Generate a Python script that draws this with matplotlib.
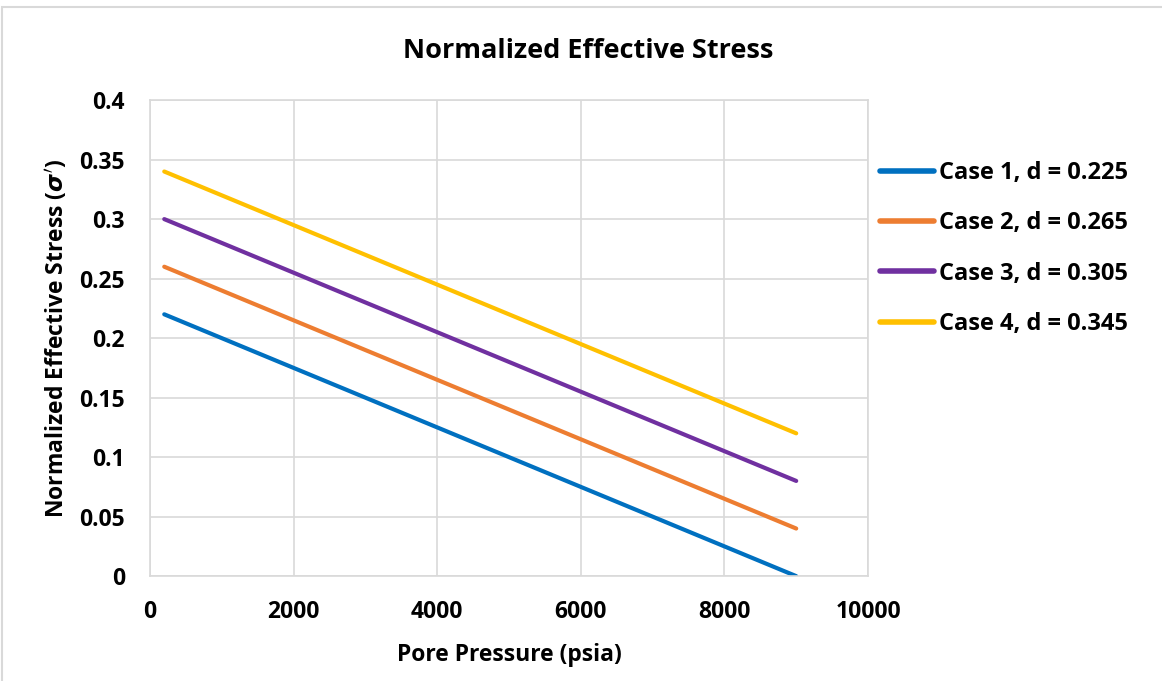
import matplotlib.pyplot as plt
from matplotlib.patches import Rectangle

plt.rcParams['font.family'] = ['Open Sans', 'DejaVu Sans']
plt.rcParams['font.weight'] = 'bold'

pore_pressure = [200, 9000]
case1 = [0.22, 0.0]
case2 = [0.26, 0.04]
case3 = [0.30, 0.08]
case4 = [0.34, 0.12]
labels = ['Case 1, d = 0.225', 'Case 2, d = 0.265',
          'Case 3, d = 0.305', 'Case 4, d = 0.345']
colors = ['#0070C0', '#ED7D31', '#7030A0', '#FFC000']
x_ticks = [0, 2000, 4000, 6000, 8000, 10000]
y_ticks = [0, 0.05, 0.1, 0.15, 0.2, 0.25, 0.3, 0.35, 0.4]
y_tick_labels = ['0', '0.05', '0.1', '0.15', '0.2', '0.25', '0.3', '0.35', '0.4']

fig = plt.figure(figsize=(11.62, 6.81), dpi=100)
ax = fig.add_axes([0.129, 0.154, 0.618, 0.699])

for y, lab, c in zip([case1, case2, case3, case4], labels, colors):
    ax.plot(pore_pressure, y, color=c, lw=3, label=lab, solid_capstyle='round')

ax.set_xlim(0, 10000)
ax.set_ylim(0, 0.4)
ax.set_xticks(x_ticks)
ax.set_xticklabels([str(t) for t in x_ticks])
ax.set_yticks(y_ticks)
ax.set_yticklabels(y_tick_labels)
ax.tick_params(labelsize=16.5)
ax.tick_params(axis='x', length=0, pad=17)
ax.tick_params(axis='y', length=0, pad=18)
ax.grid(True, color='#D9D9D9', lw=1.2)
ax.set_axisbelow(True)
for s in ax.spines.values():
    s.set_color('#D9D9D9')
    s.set_linewidth(1.2)

ax.set_xlabel('Pore Pressure (psia)', fontsize=16.5, fontweight='bold', labelpad=14)
ax.set_ylabel("Normalized Effective Stress ($\\sigma'$)", fontsize=16.5, fontweight='bold', labelpad=6)
fig.text(0.506, 0.925, 'Normalized Effective Stress', ha='center', va='center',
         fontsize=19.5, fontweight='bold')

leg = ax.legend(loc='upper left', bbox_to_anchor=(0.987, 0.917), frameon=False,
                fontsize=17, handlelength=2.3, handletextpad=0.2, labelspacing=1.12)
for line in leg.get_lines():
    line.set_linewidth(4)

fig.patches.append(Rectangle((0.002, -0.01), 1.2, 1.0, transform=fig.transFigure,
                             fill=False, edgecolor='#D9D9D9', lw=1.5))

fig.savefig('out.png', dpi=100)
